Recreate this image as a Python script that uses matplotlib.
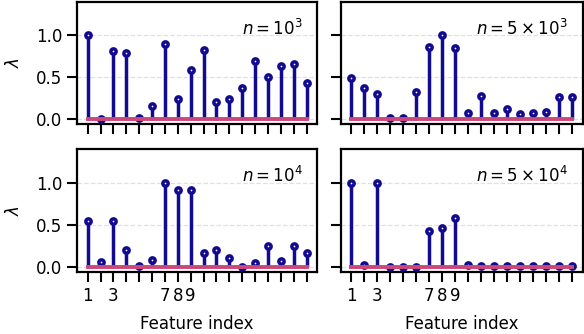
import matplotlib
matplotlib.use("Agg")
import matplotlib.pyplot as plt
import numpy as np

features = np.arange(1, 19)
labelled = [1, 3, 7, 8, 9]

lam_1e3 = [1.00, 0.00, 0.81, 0.79, 0.02, 0.16, 0.90, 0.24, 0.59, 0.82,
           0.20, 0.24, 0.37, 0.69, 0.50, 0.63, 0.66, 0.43]
lam_5e3 = [0.49, 0.37, 0.30, 0.01, 0.01, 0.33, 0.86, 1.00, 0.85, 0.07,
           0.28, 0.08, 0.12, 0.06, 0.07, 0.09, 0.26, 0.26]
lam_1e4 = [0.54, 0.06, 0.54, 0.20, 0.01, 0.08, 1.00, 0.91, 0.91, 0.16,
           0.20, 0.10, 0.00, 0.04, 0.25, 0.07, 0.24, 0.16]
lam_5e4 = [0.99, 0.02, 1.00, 0.00, 0.00, 0.00, 0.43, 0.46, 0.58, 0.02,
           0.01, 0.01, 0.01, 0.01, 0.01, 0.01, 0.01, 0.01]

titles = [r"$n = 10^3$", r"$n = 5\times10^3$", r"$n = 10^4$", r"$n = 5\times10^4$"]
series = [lam_1e3, lam_5e3, lam_1e4, lam_5e4]

navy = "#120a8f"
pink = "#cc4778"

fig = plt.figure(figsize=(5.84, 3.34), dpi=100)
boxes = [
    [0.1324, 0.6278, 0.4104, 0.3677],
    [0.5834, 0.6278, 0.4144, 0.3677],
    [0.1324, 0.1865, 0.4104, 0.3674],
    [0.5834, 0.1865, 0.4144, 0.3674],
]

for i, (vals, title, box) in enumerate(zip(series, titles, boxes)):
    ax = fig.add_axes(box)
    ax.vlines(features, 0, vals, color=navy, lw=2.5, zorder=2)
    ax.plot(features, vals, "o", ms=3.8, mfc="white", mec=navy, mew=2.5, zorder=3)
    ax.plot([features[0], features[-1]], [0, 0], color=pink, lw=2.8, zorder=4)
    ax.set_xlim(0.2, 18.8)
    ax.set_ylim(-0.06, 1.4)
    ax.set_yticks([0, 0.5, 1.0])
    ax.set_xticks(features)
    ax.yaxis.grid(True, ls="--", color="#e0e0e0", lw=0.9)
    ax.set_axisbelow(True)
    for s in ax.spines.values():
        s.set_linewidth(1.6)
    ax.tick_params(width=1.5, length=7, labelsize=12, pad=4)
    ax.text(0.94, 0.86, title, transform=ax.transAxes, ha="right", va="top", fontsize=12)
    if i % 2 == 0:
        ax.set_ylabel(r"$\lambda$", fontsize=12, labelpad=9)
        ax.set_yticklabels(["0.0", "0.5", "1.0"])
    else:
        ax.set_yticklabels([])
    if i >= 2:
        ax.set_xticklabels([str(f) if f in labelled else "" for f in features])
        ax.set_xlabel("Feature index", fontsize=12, labelpad=7)
    else:
        ax.set_xticklabels([])

fig.savefig("out.png", dpi=100)
